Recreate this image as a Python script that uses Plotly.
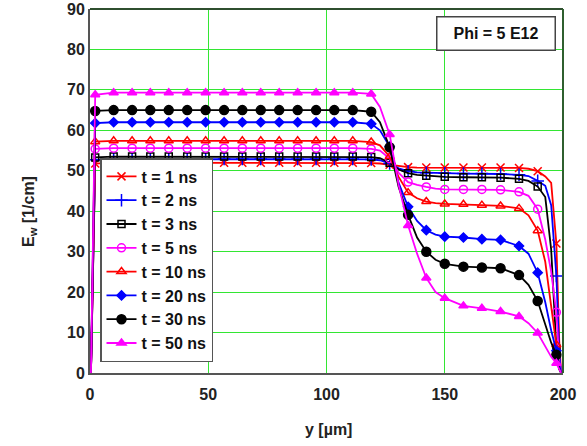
import plotly.graph_objects as go

# positions along y [um] (common grid); markers only at flagged points
X = [0.4, 2.2, 10.0, 17.8, 25.5, 33.3, 41.1, 48.9, 56.7, 64.4, 72.2, 80.0, 87.8, 95.6, 103.3, 111.1,
     118.9, 122.6, 126.7, 130.5, 134.5, 138.3, 142.2, 146.1, 150.0, 157.9, 165.7, 173.6, 181.4, 185.4,
     189.3, 192.5, 195.0, 197.2, 198.4, 199.2]
IS_MARKER = [0, 1, 1, 1, 1, 1, 1, 1, 1, 1, 1, 1, 1, 1, 1, 1,
             1, 0, 1, 0, 1, 0, 1, 0, 1, 1, 1, 1, 1, 0,
             1, 0, 0, 1, 0, 0]

LABELS = ["t = 1 ns", "t = 2 ns", "t = 3 ns", "t = 5 ns", "t = 10 ns", "t = 20 ns", "t = 30 ns", "t = 50 ns"]

T1 = [0, 51.8, 52.0, 52.0, 52.0, 52.0, 52.0, 52.0, 52.0, 52.0, 52.0, 52.0, 52.0, 52.0, 52.0, 52.0,
      51.9, 51.8, 51.5, 51.1, 50.9, 50.8, 50.8, 50.8, 50.8, 50.8, 50.8, 50.8, 50.7, 50.5,
      49.9, 48.6, 47.0, 32.0, 8.0, 0]
T2 = [0, 52.7, 52.9, 52.9, 52.9, 52.9, 52.9, 52.9, 52.9, 52.9, 52.9, 52.9, 52.9, 52.9, 52.9, 52.9,
      52.8, 52.6, 51.8, 50.6, 49.9, 49.6, 49.5, 49.4, 49.4, 49.3, 49.3, 49.2, 49.0, 48.7,
      47.5, 46.3, 41.5, 24.0, 5.0, 0]
T3 = [0, 53.3, 53.5, 53.5, 53.5, 53.5, 53.5, 53.5, 53.5, 53.5, 53.5, 53.5, 53.5, 53.5, 53.5, 53.5,
      53.4, 53.1, 52.0, 50.3, 49.4, 49.0, 48.8, 48.6, 48.5, 48.4, 48.4, 48.3, 48.0, 47.5,
      46.1, 43.5, 30.5, 6.0, 1.0, 0]
T5 = [0, 55.4, 55.6, 55.6, 55.6, 55.6, 55.6, 55.6, 55.6, 55.6, 55.6, 55.6, 55.6, 55.6, 55.6, 55.6,
      55.4, 55.0, 53.0, 49.5, 47.2, 46.5, 46.0, 45.6, 45.4, 45.4, 45.4, 45.3, 44.8, 43.8,
      40.5, 33.0, 25.0, 15.0, 3.0, 0]
T10 = [0, 57.2, 57.4, 57.4, 57.4, 57.4, 57.4, 57.4, 57.4, 57.4, 57.4, 57.4, 57.4, 57.4, 57.4, 57.4,
       57.1, 56.3, 53.5, 48.5, 44.6, 43.2, 42.4, 42.0, 41.8, 41.7, 41.5, 41.3, 40.7, 39.0,
       35.2, 27.5, 17.0, 7.0, 1.5, 0]
T20 = [0, 61.8, 62.0, 62.0, 62.0, 62.0, 62.0, 62.0, 62.0, 62.0, 62.0, 62.0, 62.0, 62.0, 62.0, 62.0,
       61.6, 60.0, 56.0, 47.0, 41.1, 37.6, 35.3, 34.2, 33.7, 33.5, 33.1, 32.9, 31.4, 29.5,
       24.8, 17.5, 10.5, 5.5, 2.0, 0]
T30 = [0, 64.8, 65.0, 65.0, 65.0, 65.0, 65.0, 65.0, 65.0, 65.0, 65.0, 65.0, 65.0, 65.0, 65.0, 65.0,
       64.6, 62.0, 55.8, 46.0, 39.1, 33.5, 30.0, 28.0, 27.0, 26.3, 26.1, 25.9, 24.2, 21.8,
       17.8, 12.0, 7.5, 4.5, 1.0, 0]
T50 = [0, 68.8, 69.3, 69.3, 69.3, 69.3, 69.3, 69.3, 69.3, 69.3, 69.3, 69.3, 69.3, 69.3, 69.3, 69.3,
       69.0, 65.8, 59.0, 46.5, 36.5, 29.5, 23.5, 20.0, 18.5, 16.6, 16.0, 15.2, 14.0, 12.3,
       9.9, 6.5, 4.0, 2.4, 1.0, 0]

SERIES = [T1, T2, T3, T5, T10, T20, T30, T50]
COLORS = ["#ff0000", "#0000ff", "#000000", "#ff00ff", "#ff0000", "#0000ff", "#000000", "#ff00ff"]
SYMBOLS = ["x-thin", "cross-thin", "square-open", "circle-open", "triangle-up-open", "diamond", "circle", "triangle-up"]
SIZES = [8, 9, 7, 8, 8, 7, 9, 8]

FONT = "Liberation Sans, Arial, sans-serif"

fig = go.Figure()
for vals, col, sym, sz, lab in zip(SERIES, COLORS, SYMBOLS, SIZES, LABELS):
    fig.add_trace(go.Scatter(x=X, y=vals, mode="lines", line=dict(color=col, width=1.8),
                             showlegend=False, hoverinfo="skip"))
    mx = [x for x, m in zip(X, IS_MARKER) if m]
    my = [v for v, m in zip(vals, IS_MARKER) if m]
    fig.add_trace(go.Scatter(x=mx, y=my, mode="markers", showlegend=False,
                             marker=dict(symbol=sym, size=sz, color=col,
                                         line=dict(color=col, width=1.5))))
for col, sym, sz, lab in zip(COLORS, SYMBOLS, SIZES, LABELS):
    fig.add_trace(go.Scatter(x=[None], y=[None], mode="lines+markers", name=lab,
                             line=dict(color=col, width=1.8),
                             marker=dict(symbol=sym, size=sz, color=col,
                                         line=dict(color=col, width=1.5))))

W, H = 587, 446
L, R, T, B = 90, 24, 9, 73
pw, ph = W - L - R, H - T - B


def px(sx):
    return (sx - L) / pw


def py(sy):
    return (H - B - sy) / ph


fig.update_layout(
    width=W, height=H,
    margin=dict(l=L, r=R, t=T, b=B, autoexpand=False),
    paper_bgcolor="white", plot_bgcolor="white",
    font=dict(family=FONT, size=16, color="#222222", weight="bold"),
    xaxis=dict(range=[0, 200], dtick=50, showgrid=True, gridcolor="#33e633", gridwidth=1,
               zeroline=False, showline=True, linecolor="#555555", linewidth=2,
               ticks="", ticklabelstandoff=6, automargin=False, ticklabeloverflow="allow",
               tickfont=dict(family=FONT, size=16, color="#222222", weight="bold")),
    yaxis=dict(range=[0, 90], dtick=10, showgrid=True, gridcolor="#33e633", gridwidth=1,
               zeroline=False, showline=True, linecolor="#555555", linewidth=2,
               ticks="", ticklabelstandoff=0, automargin=False, ticklabeloverflow="allow",
               tickfont=dict(family=FONT, size=16, color="#222222", weight="bold")),
    legend=dict(x=px(100), y=py(362), xanchor="left", yanchor="bottom",
                bgcolor="white", bordercolor="#555555", borderwidth=1.5,
                font=dict(family=FONT, size=16, color="#111111", weight="bold"),
                tracegroupgap=0),
    showlegend=True,
)

# top and right frame
fig.add_shape(type="line", xref="paper", yref="paper", x0=0, x1=1, y0=1, y1=1,
              line=dict(color="#2f4f2f", width=2))
fig.add_shape(type="line", xref="paper", yref="paper", x0=1, x1=1, y0=0, y1=1,
              line=dict(color="#2f5f2f", width=2))

fig.add_annotation(xref="paper", yref="paper", x=px(496), y=py(33), xanchor="center", yanchor="middle",
                   text="Phi = 5 E12", showarrow=False,
                   font=dict(family=FONT, size=16, color="#111111", weight="bold"),
                   bgcolor="white", bordercolor="#444444", borderwidth=1.5,
                   width=115, height=30, borderpad=1)
fig.add_annotation(xref="paper", yref="paper", x=px(29), y=py(212), xanchor="center", yanchor="middle",
                   text="E<sub>w</sub> [1/cm]", textangle=-90, showarrow=False,
                   font=dict(family=FONT, size=16, color="#222222", weight="bold"))
fig.add_annotation(xref="paper", yref="paper", x=px(328), y=py(430), xanchor="center", yanchor="middle",
                   text="y [µm]", showarrow=False,
                   font=dict(family=FONT, size=16, color="#222222", weight="bold"))

fig.write_html("out.html", config={"displayModeBar": False},
               post_script="document.body.style.margin='0px';")
